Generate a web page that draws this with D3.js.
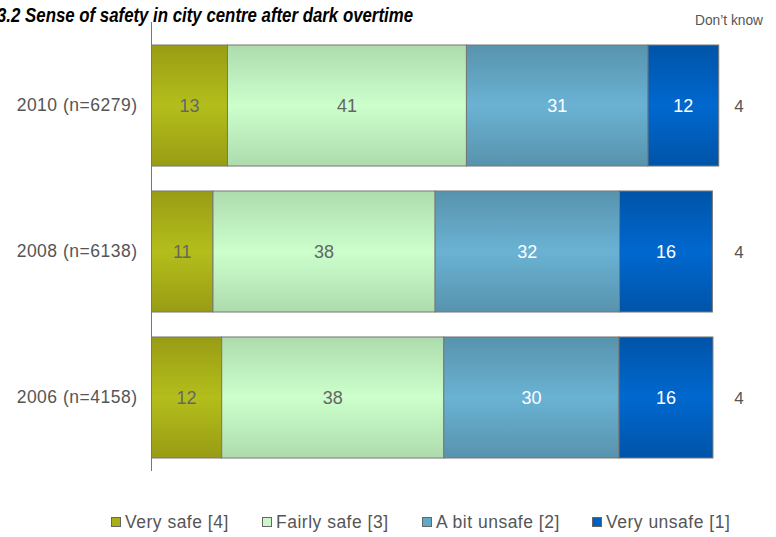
<!DOCTYPE html>
<html><head><meta charset="utf-8">
<script src="https://cdn.jsdelivr.net/npm/d3@7"></script>
<style>body{margin:0;background:#fff}svg{display:block;font-family:"Liberation Sans",Arial,sans-serif}</style>
</head><body>
<svg id="c" width="776" height="537"></svg>
<script>
const categories = ["2010 (n=6279)", "2008 (n=6138)", "2006 (n=4158)"];
const seriesNames = ["Very safe [4]", "Fairly safe [3]", "A bit unsafe [2]", "Very unsafe [1]"];
const verySafe    = [13.1, 10.6, 12.1];
const fairlySafe  = [41.2, 38.3, 38.3];
const aBitUnsafe  = [31.3, 31.8, 30.2];
const veryUnsafe  = [12.2, 16.0, 16.2];
const dontKnow    = [4, 4, 4];
const title = "3.2 Sense of safety in city centre after dark overtime";
const dkLabel = "Don\u2019t know";

const series = [verySafe, fairlySafe, aBitUnsafe, veryUnsafe];
const grads = [
  {edge:"#999c14", mid:"#b3be1b"},
  {edge:"#addbad", mid:"#ccffcc"},
  {edge:"#5893ad", mid:"#6ab2d3"},
  {edge:"#0054a8", mid:"#0068cf"}
];
const labelColors = ["#666", "#666", "#fff", "#fff"];
const legendSwatch = ["#a8b018", "#ccf5cc", "#62a8c8", "#0060c0"];

const svg = d3.select("#c");
const defs = svg.append("defs");
grads.forEach((g,i)=>{
  const lg = defs.append("linearGradient").attr("id","g"+i).attr("x1",0).attr("y1",0).attr("x2",0).attr("y2",1);
  lg.append("stop").attr("offset","0%").attr("stop-color",g.edge);
  lg.append("stop").attr("offset","50%").attr("stop-color",g.mid);
  lg.append("stop").attr("offset","100%").attr("stop-color",g.edge);
});

const x = d3.scaleLinear().domain([0,100]).range([151.5, 731.5]);
const y = d3.scaleBand().domain(categories).range([30.4, 472.6]).paddingInner(0.171).paddingOuter(0.1);

// title
svg.append("text").attr("x",-3).attr("y",22).attr("font-size",21)
  .attr("font-family","'Liberation Sans Narrow','Liberation Sans',Arial,sans-serif")
  .attr("font-weight","bold").attr("font-style","italic").attr("fill","#000")
  .attr("textLength",416).attr("lengthAdjust","spacingAndGlyphs").text(title);
svg.append("text").attr("x",695).attr("y",25).attr("font-size",15.5)
  .attr("textLength",68).attr("lengthAdjust","spacingAndGlyphs")
  .attr("fill","#555").text(dkLabel);

// bars
categories.forEach((cat,ci)=>{
  let acc = 0;
  series.forEach((s,si)=>{
    const v = s[ci];
    const x0 = x(acc), x1 = x(acc+v);
    svg.append("rect").attr("x",x0).attr("y",y(cat)).attr("width",x1-x0).attr("height",y.bandwidth())
      .attr("fill","url(#g"+si+")").attr("stroke","#777").attr("stroke-width",1);
    svg.append("text").attr("x",(x0+x1)/2).attr("y",y(cat)+y.bandwidth()/2).attr("dy","0.35em")
      .attr("text-anchor","middle").attr("font-size",18).attr("fill",labelColors[si])
      .text(d3.format(".0f")(v));
    acc += v;
  });
  svg.append("text").attr("x",739).attr("y",y(cat)+y.bandwidth()/2 + 1).attr("dy","0.35em")
    .attr("text-anchor","middle").attr("font-size",17).attr("fill","#555").text(dontKnow[ci]);
});

// y axis
const yAxis = d3.axisLeft(y).tickSize(0).tickPadding(14);
const ga = svg.append("g").attr("transform","translate(151.5,0)").call(yAxis);
ga.select(".domain").attr("d","M0,22V471").attr("stroke","#777");
ga.selectAll("text").attr("font-size",17.5).attr("letter-spacing",0.5).attr("fill","#555")
  .attr("font-family","Liberation Sans, Arial, sans-serif");

// legend
const lx = [111, 262, 422, 592];
seriesNames.forEach((n,i)=>{
  svg.append("rect").attr("x",lx[i]+0.5).attr("y",517.5).attr("width",9).attr("height",9)
    .attr("fill",legendSwatch[i]).attr("stroke","#666").attr("stroke-width",1);
  svg.append("text").attr("x",lx[i]+14).attr("y",522).attr("dy","0.35em").attr("font-size",17.5)
    .attr("letter-spacing",0.5).attr("fill","#555").text(n);
});
</script>
</body></html>
